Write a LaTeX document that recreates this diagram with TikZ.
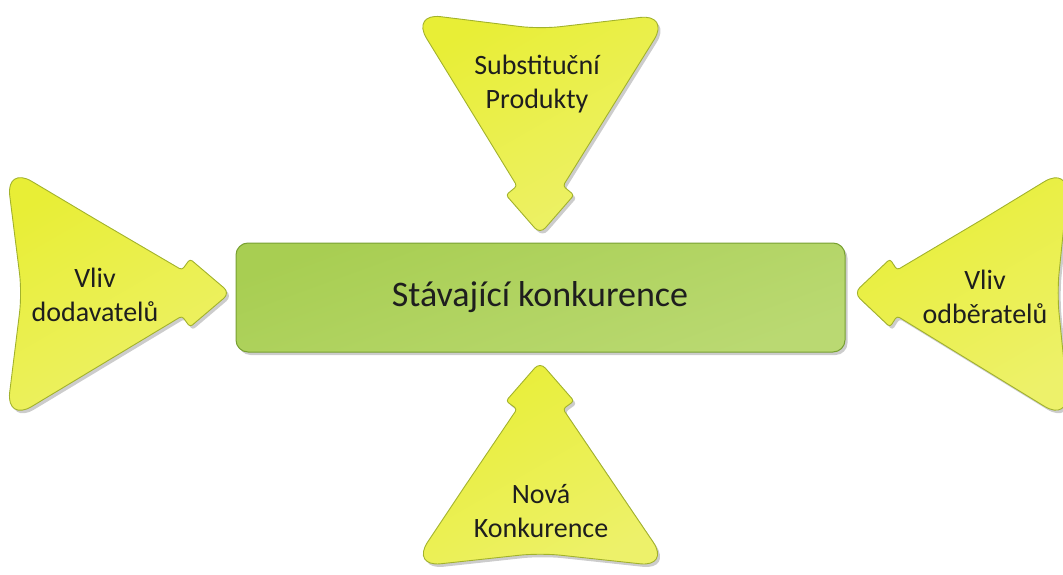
\documentclass[tikz,border=0pt]{standalone}
\usepackage{fontspec}
\setmainfont{Carlito}
\usetikzlibrary{shadows}
\definecolor{yelA}{HTML}{E8EE36}
\definecolor{yelB}{HTML}{EDF16A}
\definecolor{yelLine}{HTML}{A2B22C}
\definecolor{grnA}{HTML}{A8CE52}
\definecolor{grnB}{HTML}{BAD972}
\definecolor{grnLine}{HTML}{78A032}
\definecolor{txt}{HTML}{1E1E1E}
\tikzset{
  arrowshape/.style={draw=yelLine, line width=0.9pt, top color=yelA, bottom color=yelB, shading angle=30,
    drop shadow={shadow xshift=2.5pt, shadow yshift=-3pt, opacity=0.2, fill=black}},
  centerbox/.style={draw=grnLine, line width=1pt, top color=grnA, bottom color=grnB, shading angle=20,
    rounded corners=12pt, minimum width=609pt, minimum height=109pt,
    drop shadow={shadow xshift=2.5pt, shadow yshift=-3pt, opacity=0.2, fill=black}},
  lbl/.style={text=txt, align=center, font=\fontsize{28}{34}\selectfont, inner sep=0pt},
}
\begin{document}
\begin{tikzpicture}[x=1pt,y=-1pt]
\useasboundingbox (0,0) rectangle (1063,575);
% top arrow
\path[arrowshape] (465,101) [rounded corners=30pt] -- (411,13) [rounded corners=20pt] -- (540,29)
  [rounded corners=30pt] -- (670,14) [rounded corners=3pt] -- (563,186) -- (574,195)
  [rounded corners=8pt] -- (540,234) [rounded corners=3pt] -- (506,195) -- (517,186) -- cycle;
% left arrow
\path[arrowshape] (95,219) [rounded corners=30pt] -- (6,166) [rounded corners=20pt] -- (22,293)
  [rounded corners=30pt] -- (6,422) [rounded corners=3pt] -- (182,316) -- (190,327)
  [rounded corners=8pt] -- (230,293) [rounded corners=3pt] -- (190,259) -- (182,270) -- cycle;
% right arrow
\path[arrowshape] (983,219) [rounded corners=30pt] -- (1070,166) [rounded corners=20pt] -- (1057,293)
  [rounded corners=30pt] -- (1070,422) [rounded corners=3pt] -- (897,316) -- (890,327)
  [rounded corners=8pt] -- (854,293) [rounded corners=3pt] -- (890,259) -- (897,270) -- cycle;
% bottom arrow
\path[arrowshape] (465,486) [rounded corners=30pt] -- (411,567) [rounded corners=20pt] -- (540,553)
  [rounded corners=30pt] -- (670,567) [rounded corners=3pt] -- (563,409) -- (574,401)
  [rounded corners=8pt] -- (540,362) [rounded corners=3pt] -- (506,401) -- (517,409) -- cycle;
% center box
\node[centerbox] (center) at (540.5,297.5) {};
\node[lbl, font=\fontsize{36}{40}\selectfont] (centertext) at (540,297) {Stávající konkurence};
\node[lbl] (top) at (537,84) {Substituční\\Produkty};
\node[lbl] (left) at (95,295) {Vliv\\dodavatelů};
\node[lbl] (right) at (985,297) {Vliv\\odběratelů};
\node[lbl] (bottom) at (541,511) {Nová\\Konkurence};
\end{tikzpicture}
\end{document}
